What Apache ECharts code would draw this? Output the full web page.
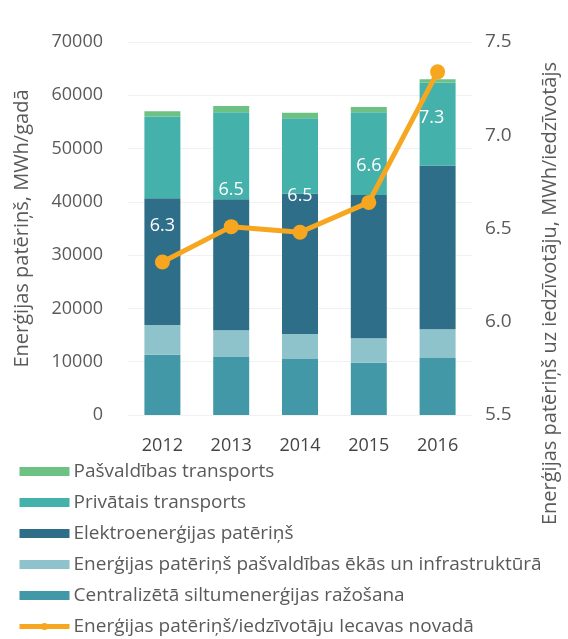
<!DOCTYPE html>
<html lang="lv">
<head>
  <meta charset="UTF-8">
  <script src="https://cdn.jsdelivr.net/npm/echarts@6/dist/echarts.min.js"></script>
  <style>
    html, body { margin: 0; padding: 0; background: #fff; }
    #chart { width: 568px; height: 639px; }
  </style>
</head>
<body>
  <div id="chart"></div>
  <script>
    // gadi
    const years = ['2012', '2013', '2014', '2015', '2016'];

    // MWh/gadā, no apakšas uz augšu
    const centralHeat = [11300, 10900, 10500, 9800, 10700];
    const municipalBuildings = [5600, 5000, 4700, 4600, 5400];
    const electricity = [23800, 24600, 26300, 26900, 30700];
    const privateTransport = [15300, 16300, 14200, 15500, 15600];
    const municipalTransport = [1000, 1200, 1000, 1000, 600];

    // MWh/iedzīvotāju
    const perCapita = [6.32, 6.51, 6.48, 6.64, 7.34];

    const leftTicks = { min: 0, max: 70000, interval: 10000 };
    const rightTicks = { min: 5.5, max: 7.5, interval: 0.5 };

    const font = 'Open Sans';
    const txt = '#5a5a5a';

    const chart = echarts.init(document.getElementById('chart'));

    function barSeries(name, data, color) {
      return {
        name: name,
        type: 'bar',
        stack: 'total',
        barWidth: 36,
        data: data,
        itemStyle: { color: color },
        emphasis: { disabled: true }
      };
    }

    const option = {
      animation: false,
      textStyle: { fontFamily: font },
      grid: { left: 128, right: 88, top: 42, bottom: 224 },
      legend: {
        orient: 'vertical',
        left: 17,
        top: 462,
        padding: 0,
        itemWidth: 50,
        itemHeight: 9,
        itemGap: 12,
        textStyle: { fontSize: 19, color: txt, lineHeight: 19, fontFamily: font, padding: [0, 0, 0, -1] },
        data: [
          { name: 'Pašvaldības transports', icon: 'rect' },
          { name: 'Privātais transports', icon: 'rect' },
          { name: 'Elektroenerģijas patēriņš', icon: 'rect' },
          { name: 'Enerģijas patēriņš pašvaldības ēkās un infrastruktūrā', icon: 'rect' },
          { name: 'Centralizētā siltumenerģijas ražošana', icon: 'rect' },
          { name: 'Enerģijas patēriņš/iedzīvotāju Iecavas novadā', lineStyle: { width: 5 } }
        ]
      },
      xAxis: {
        type: 'category',
        data: years,
        axisLine: { show: false },
        axisTick: { show: false },
        axisLabel: { color: '#444', fontSize: 18, margin: 22 }
      },
      yAxis: [
        {
          type: 'value',
          min: leftTicks.min,
          max: leftTicks.max,
          interval: leftTicks.interval,
          name: 'Enerģijas patēriņš, MWh/gadā',
          nameLocation: 'middle',
          nameGap: 96,
          nameTextStyle: { fontSize: 20, color: txt },
          axisLabel: { color: txt, fontSize: 18, margin: 25, formatter: v => String(v) },
          splitLine: { lineStyle: { color: '#f1f1f1' } }
        },
        {
          type: 'value',
          min: rightTicks.min,
          max: rightTicks.max,
          interval: rightTicks.interval,
          name: 'Enerģijas patēriņš uz iedzīvotāju, MWh/iedzīvotājs',
          nameLocation: 'middle',
          nameGap: 68,
          nameTextStyle: { fontSize: 20, color: txt, padding: [0, 130, 0, 0] },
          axisLabel: { color: txt, fontSize: 19, margin: 13, formatter: v => v.toFixed(1) },
          splitLine: { show: false }
        }
      ],
      series: [
        barSeries('Centralizētā siltumenerģijas ražošana', centralHeat, '#4398a8'),
        barSeries('Enerģijas patēriņš pašvaldības ēkās un infrastruktūrā', municipalBuildings, '#8ec3cc'),
        barSeries('Elektroenerģijas patēriņš', electricity, '#2f6e89'),
        barSeries('Privātais transports', privateTransport, '#45b1ab'),
        barSeries('Pašvaldības transports', municipalTransport, '#6cc183'),
        {
          name: 'Enerģijas patēriņš/iedzīvotāju Iecavas novadā',
          type: 'line',
          yAxisIndex: 1,
          data: perCapita.map((v, i) => ({
            value: v,
            label: i === perCapita.length - 1
              ? { position: 'bottom', distance: 30, offset: [-6, 0] }
              : { position: 'top', distance: 20 }
          })),
          symbol: 'circle',
          symbolSize: 15,
          lineStyle: { color: '#f6a71f', width: 5 },
          itemStyle: { color: '#f6a71f' },
          label: {
            show: true,
            color: '#fff',
            fontSize: 18,
            formatter: p => p.value.toFixed(1)
          },
          emphasis: { disabled: true },
          z: 5
        }
      ]
    };
    chart.setOption(option);
  </script>
</body>
</html>
